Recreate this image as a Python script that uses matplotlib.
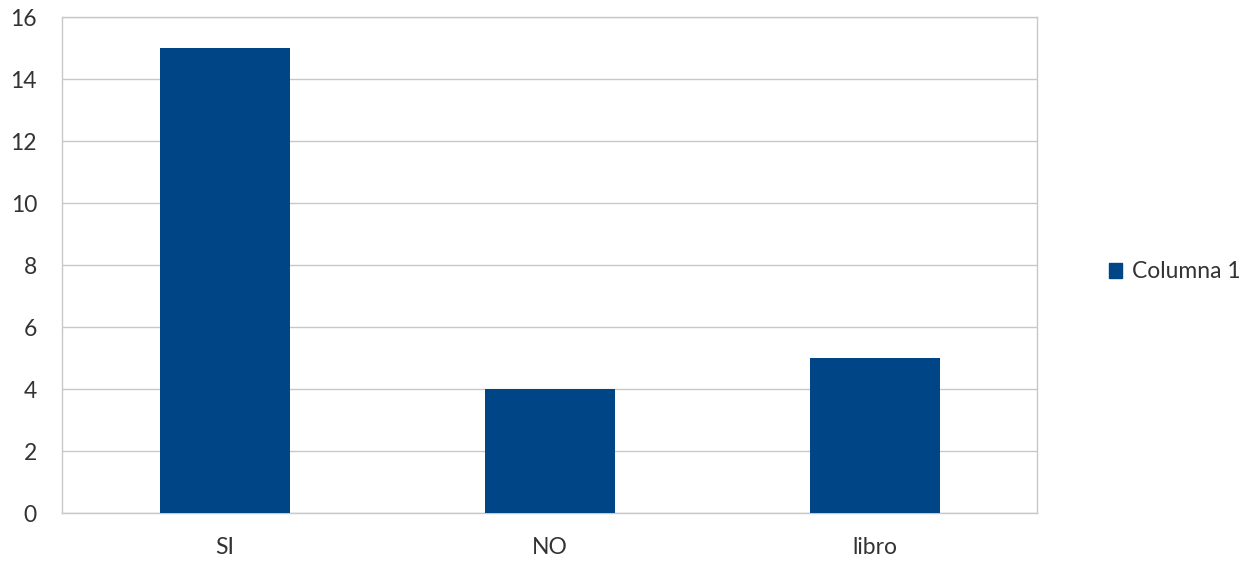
import matplotlib
matplotlib.use("Agg")
import matplotlib.pyplot as plt
from matplotlib.patches import Patch

categories = ["SI", "NO", "libro"]
values = [15, 4, 5]
series_name = "Columna 1"
yticks = [0, 2, 4, 6, 8, 10, 12, 14, 16]

plt.rcParams["font.family"] = ["Lato", "DejaVu Sans"]
bar_color = "#004586"
grid_color = "#c8c8c8"
text_color = "#333333"
label_size = 16.5

fig = plt.figure(figsize=(12.59, 5.66), dpi=100)
ax = fig.add_axes([62 / 1259, 53 / 566, (1037 - 62) / 1259, (513 - 17) / 566])

x = range(len(categories))
ax.bar(x, values, width=0.4, color=bar_color, zorder=3)

ax.set_xlim(-0.5, len(categories) - 0.5)
ax.set_ylim(0, 16)
ax.set_yticks(yticks)
ax.set_xticks(list(x))
ax.set_xticklabels(categories)
ax.yaxis.grid(True, color=grid_color, linewidth=1, zorder=0)
ax.tick_params(axis="both", length=0, labelsize=label_size, colors=text_color)
ax.tick_params(axis="y", pad=18)
ax.tick_params(axis="x", pad=17)
for s in ax.spines.values():
    s.set_color(grid_color)
    s.set_linewidth(1)

handle = Patch(facecolor=bar_color, edgecolor=bar_color)
fig.legend([handle], [series_name], loc="center left",
           bbox_to_anchor=(1088 / 1259, 1 - 272 / 566), frameon=False,
           fontsize=label_size, handlelength=0.6, handleheight=0.6, handletextpad=0.4,
           labelcolor=text_color)

fig.savefig("out.png", dpi=100, facecolor="white")
